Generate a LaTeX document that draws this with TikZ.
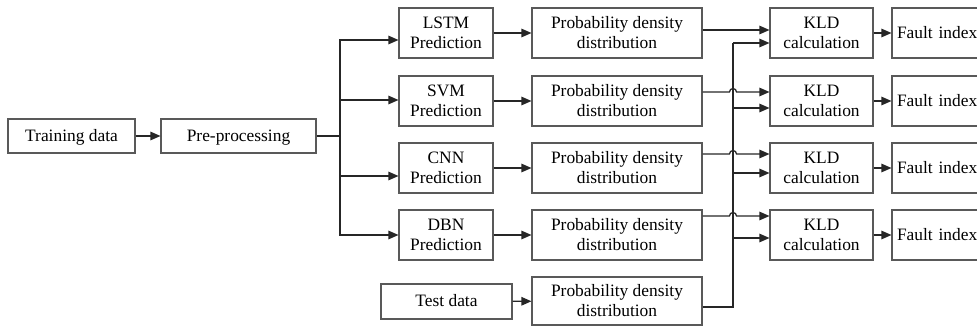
\documentclass[tikz,border=0pt]{standalone}
\usepackage{fontspec}
\setmainfont{Liberation Serif}
\usetikzlibrary{arrows.meta,calc}
\begin{document}
\begin{tikzpicture}[x=1pt,y=-1pt,
  box/.style={draw=black!65,line width=1.1pt,align=center,inner sep=0pt,
    font=\fontsize{17.4}{20}\selectfont,text=black,minimum height=50},
  oneline/.style={box,text height=13.5,text depth=3},
  wire/.style={draw=black!85,line width=1.25pt},
  arr/.style={wire,-{Triangle[length=10pt,width=8.5pt]}}]
\useasboundingbox (0,0) rectangle (977,327);
\clip (0,0) rectangle (977,327);

% input stage
\node[oneline,minimum width=127,minimum height=34] (train) at (71.5,136) {Training data};
\node[oneline,minimum width=155,minimum height=34] (pre) at (238.5,136) {Pre-processing};

% predictors
\node[box,minimum width=94] (lstm) at (446,33)  {LSTM\\Prediction};
\node[box,minimum width=94] (svm)  at (446,101) {SVM\\Prediction};
\node[box,minimum width=94] (cnn)  at (446,168) {CNN\\Prediction};
\node[box,minimum width=94] (dbn)  at (446,235) {DBN\\Prediction};
\node[oneline,minimum width=131,minimum height=35] (test) at (446.5,301.5) {Test data};

% density estimates
\node[box,minimum width=170] (pdd1) at (617,33)  {Probability density\\distribution};
\node[box,minimum width=170] (pdd2) at (617,101) {Probability density\\distribution};
\node[box,minimum width=170] (pdd3) at (617,168) {Probability density\\distribution};
\node[box,minimum width=170] (pdd4) at (617,235) {Probability density\\distribution};
\node[box,minimum width=170,minimum height=48] (pdd5) at (617,301) {Probability density\\distribution};

% divergence
\node[box,minimum width=103] (kld1) at (821.5,33)  {KLD\\calculation};
\node[box,minimum width=103] (kld2) at (821.5,101) {KLD\\calculation};
\node[box,minimum width=103] (kld3) at (821.5,168) {KLD\\calculation};
\node[box,minimum width=103] (kld4) at (821.5,235) {KLD\\calculation};

% outputs
\node[oneline,inner xsep=5pt,text width=98,align=left] (f1) at (946,33)  {Fault index};
\node[oneline,inner xsep=5pt,text width=98,align=left] (f2) at (946,101) {Fault index};
\node[oneline,inner xsep=5pt,text width=98,align=left] (f3) at (946,168) {Fault index};
\node[oneline,inner xsep=5pt,text width=98,align=left] (f4) at (946,235) {Fault index};

% training branch
\draw[arr] (train) -- (pre);
\coordinate (bus) at (340,136);
\draw[wire] (pre.east) -- (bus);
\draw[arr] (bus) |- ($(lstm.west)+(0,7)$);
\draw[arr] (bus) |- ($(svm.west)+(0,-1)$);
\draw[arr] (bus) |- ($(cnn.west)+(0,8)$);
\draw[arr] (bus) |- (dbn.west);

\foreach \p/\d in {lstm/pdd1,svm/pdd2,cnn/pdd3,dbn/pdd4,test/pdd5}
  \draw[arr] (\p) -- (\d);
\foreach \k/\f in {kld1/f1,kld2/f2,kld3/f3,kld4/f4}
  \draw[arr] (\k) -- (\f);

% test-data density bus
\coordinate (ktop) at (733,43);
\draw[wire] ($(pdd5.east)+(0,6)$) -| (ktop);
\draw[arr] (ktop) -- ($(kld1.west)+(0,10)$);
\draw[arr] ($(ktop |- kld2.west)+(0,7)$) -- ($(kld2.west)+(0,7)$);
\draw[arr] ($(ktop |- kld3.west)+(0,5)$) -- ($(kld3.west)+(0,5)$);
\draw[arr] ($(ktop |- kld4.west)+(0,3)$) -- ($(kld4.west)+(0,3)$);

% model densities, hopping over the bus
\draw[arr] ($(pdd1.east)+(0,-3)$) -- ($(kld1.west)+(0,-3)$);
\draw[arr] ($(pdd2.east)+(0,-9)$) -- ($(ktop |- pdd2.east)+(-3.5,-9)$)
  arc (180:0:3.5pt) -- ($(kld2.west)+(0,-9)$);
\draw[arr] ($(pdd3.east)+(0,-14)$) -- ($(ktop |- pdd3.east)+(-3.5,-14)$)
  arc (180:0:3.5pt) -- ($(kld3.west)+(0,-14)$);
\draw[arr] ($(pdd4.east)+(0,-19)$) -- ($(ktop |- pdd4.east)+(-3.5,-19)$)
  arc (180:0:3.5pt) -- ($(kld4.west)+(0,-19)$);
\end{tikzpicture}
\end{document}
